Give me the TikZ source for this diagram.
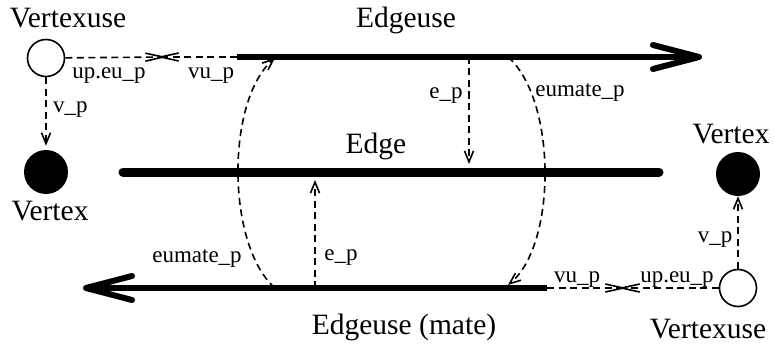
\documentclass[tikz,border=0pt]{standalone}
\usepackage{fontspec}
\setmainfont{Liberation Serif}
\usetikzlibrary{arrows.meta}
\tikzset{
  big/.style={font=\fontsize{29.5}{32}\selectfont, inner sep=0pt, anchor=base},
  small/.style={font=\fontsize{23}{26}\selectfont, inner sep=0pt, anchor=base},
  ptr/.style={dashed, dash pattern=on 7pt off 4.5pt, line width=1.6pt},
  tipA/.style={-{Straight Barb[length=11pt,width=9pt]}},
  tipB/.style={-{Straight Barb[length=18pt,width=8pt]}},
  edgeline/.style={line width=6pt},
  usenode/.style={circle, draw, line width=1.6pt, minimum size=37pt, inner sep=0pt},
  vtxnode/.style={circle, fill=black, minimum size=44pt, inner sep=0pt},
}
\begin{document}
\begin{tikzpicture}[x=1pt,y=-1pt]
\useasboundingbox (0,0) rectangle (774,345);
% vertex-uses and vertices
\node[usenode] (vu1) at (46,58) {};
\node[usenode] (vu2) at (738,288) {};
\node[vtxnode] (v1) at (46,172) {};
\node[vtxnode] (v2) at (738,174) {};
% edge coordinates
\coordinate (e1s) at (237,57);
\coordinate (e1t) at (702,57);
\coordinate (e2s) at (123,172);
\coordinate (e2t) at (659,172);
\coordinate (e3s) at (547,288);
\coordinate (e3t) at (83,288);
% thick edges
\draw[edgeline, -{Straight Barb[length=46pt,width=24pt,round]}] (e1s) -- (e1t);
\draw[line width=9pt, line cap=round] (e2s) -- (e2t);
\draw[edgeline, -{Straight Barb[length=46pt,width=24pt,round]}] (e3s) -- (e3t);
% meeting points of vu_p / up.eu_p
\coordinate (mtr) at (167,57);
\coordinate (mtl) at (157,57);
\coordinate (mbr) at (627,288);
\coordinate (mbl) at (618,288);
\draw[ptr, tipB] (vu1) -- (mtr);
\draw[ptr, tipB] (e1s) -- (mtl);
\draw[ptr, tipB] (e3s) -- (mbr);
\draw[ptr, tipB] (vu2) -- (mbl);
% v_p
\draw[ptr, tipA, shorten >=4pt] (vu1) -- (v1);
\draw[ptr, tipA] (vu2) -- (v2);
% e_p
\coordinate (ep1s) at (469,57);
\coordinate (ep1t) at (469,164);
\coordinate (ep2s) at (315,288);
\coordinate (ep2t) at (315,180);
\draw[ptr, tipA] (ep1s) -- (ep1t);
\draw[ptr, tipA] (ep2s) -- (ep2t);
% eumate_p
\coordinate (mL1) at (275,288);
\coordinate (mL2) at (275,58);
\coordinate (mR1) at (508,57);
\coordinate (mR2) at (508,285);
\draw[ptr, tipA] (mL1) .. controls (226,245) and (226,100) .. (mL2);
\draw[ptr, tipA] (mR1) .. controls (557,100) and (557,245) .. (mR2);
% labels
\node[big] (lvu1) at (68,28) {Vertexuse};
\node[big] (leu) at (406,28) {Edgeuse};
\node[big] (le) at (376,153) {Edge};
\node[big] (lv1) at (50,220) {Vertex};
\node[big] (lv2) at (731,143) {Vertex};
\node[big] (leum) at (404,334) {Edgeuse (mate)};
\node[big] (lvu2) at (708,338) {Vertexuse};
\node[small] (l1) at (109,78) {up.eu\_p};
\node[small] (l2) at (211,78) {vu\_p};
\node[small, anchor=base west] (l3) at (53,113) {v\_p};
\node[small] (l4) at (446,99) {e\_p};
\node[small] (l5) at (580,96) {eumate\_p};
\node[small] (l6) at (197,262) {eumate\_p};
\node[small] (l7) at (341,260) {e\_p};
\node[small] (l8) at (577,282) {vu\_p};
\node[small] (l9) at (677,282) {up.eu\_p};
\node[small] (l10) at (715,242) {v\_p};
\end{tikzpicture}
\end{document}
